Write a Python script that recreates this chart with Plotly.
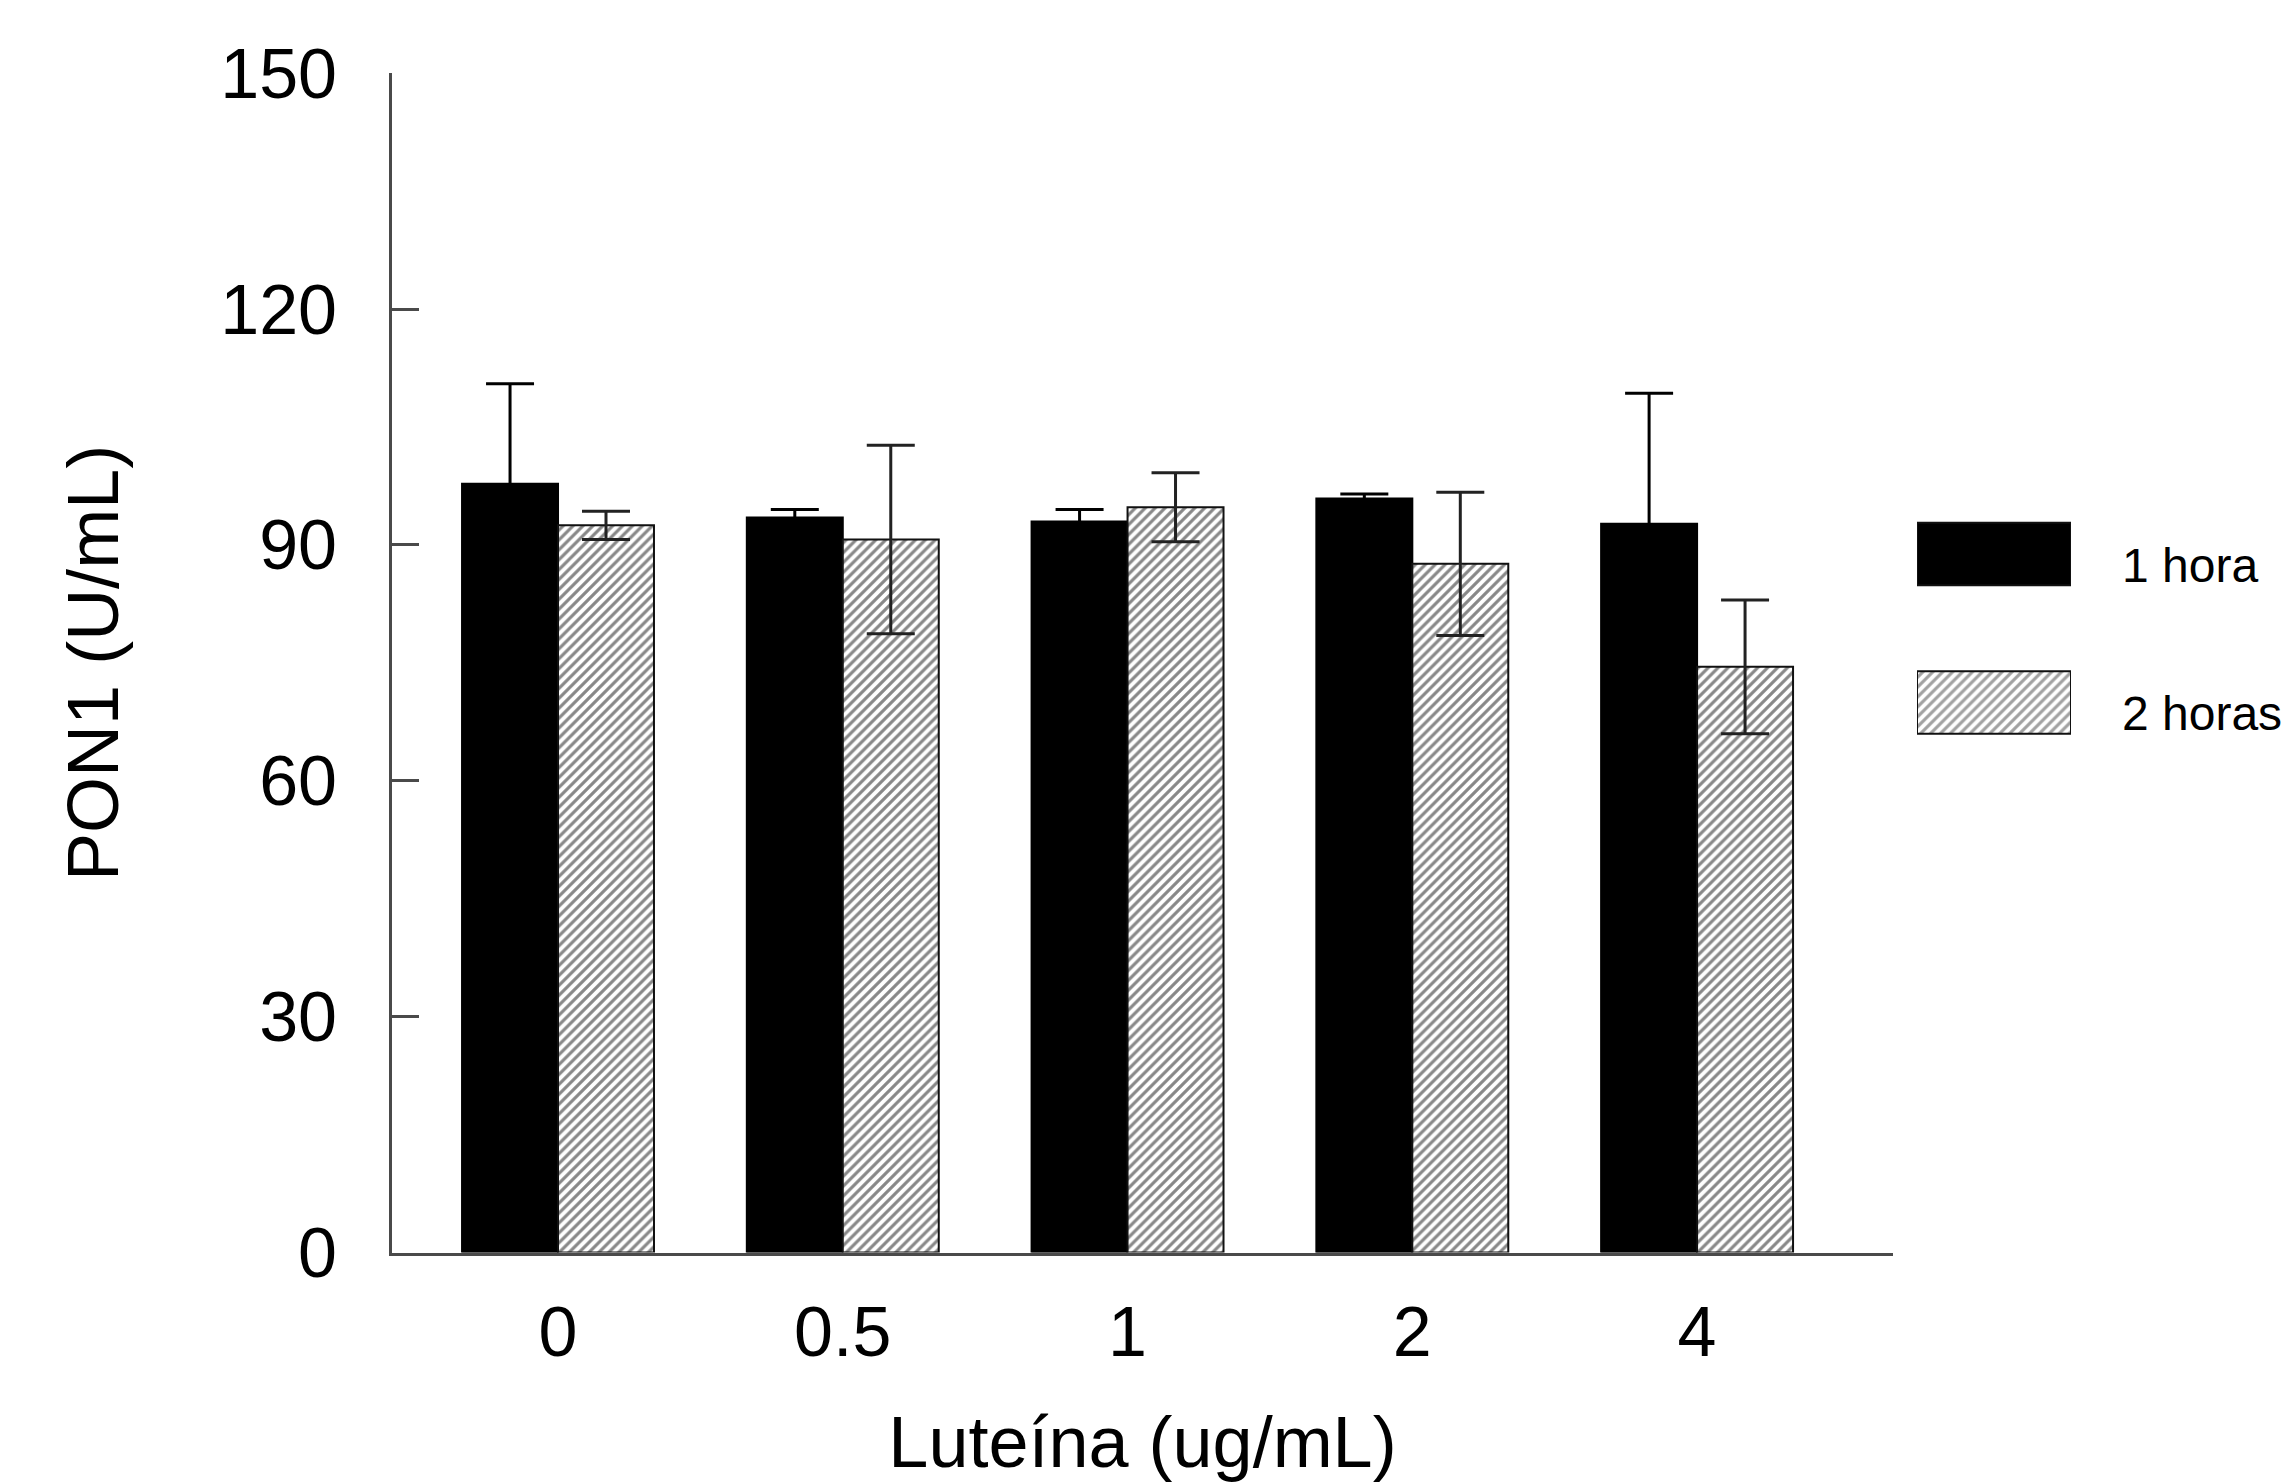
import plotly.graph_objects as go

# ---- data ----
concentrations = ["0", "0.5", "1", "2", "4"]
hora1_mean = [97.8, 93.5, 93.0, 95.9, 92.7]
hora1_err = [12.7, 1.0, 1.5, 0.6, 16.6]
hora2_mean = [92.5, 90.7, 94.8, 87.6, 74.5]
hora2_err = [1.8, 12.0, 4.4, 9.1, 8.5]
series_names = ["1 hora", "2 horas"]
y_ticks = [0, 30, 60, 90, 120, 150]

W, H = 2285, 1482
FONT = "Liberation Sans, Arial, Helvetica, sans-serif"
AXIS_COLOR = "#4a4a4a"
ERR_COLOR = "#222222"

def px_x(p):
    return p / W

def px_y(p):
    return (H - p) / H

hatch = dict(shape="/", fgcolor="#111111", bgcolor="white", size=7, solidity=0.45)

fig = go.Figure()

fig.add_trace(go.Bar(
    x=concentrations, y=hora1_mean, name=series_names[0],
    marker=dict(color="black", line=dict(color="black", width=2)),
    error_y=dict(type="data", array=hora1_err, visible=True,
                 color="black", thickness=3, width=24),
    showlegend=False, hoverinfo="x+y",
))
fig.add_trace(go.Bar(
    x=concentrations, y=hora2_mean, name=series_names[1],
    marker=dict(color="white", pattern=hatch, line=dict(color="#111111", width=2)),
    error_y=dict(type="data", array=hora2_err, visible=True,
                 color=ERR_COLOR, thickness=3, width=24),
    showlegend=False, hoverinfo="x+y",
))

# custom legend drawn on its own small axes (large swatches like the original)
fig.add_trace(go.Bar(
    y=series_names, x=[1, 1], orientation="h", width=0.42,
    marker=dict(color=["black", "white"],
                pattern=dict(shape=["", "/"], fgcolor="#111111", bgcolor="white",
                             size=7, solidity=0.45),
                line=dict(color="#111111", width=2)),
    xaxis="x2", yaxis="y2", showlegend=False, hoverinfo="skip",
))

fig.update_layout(
    width=W, height=H,
    margin=dict(l=0, r=0, t=0, b=0),
    paper_bgcolor="white", plot_bgcolor="white",
    font=dict(family=FONT, color="black", size=72),
    barmode="group", bargap=0.326, bargroupgap=0,
    showlegend=False,
    xaxis=dict(
        domain=[px_x(392), px_x(1893)],
        type="category", range=[-0.583, 4.688],
        showline=True, linecolor=AXIS_COLOR, linewidth=3,
        ticks="", showgrid=False, zeroline=False,
        tickfont=dict(size=70, family=FONT, color="black"),
        ticklabelstandoff=16,
        title=dict(text="Luteína (ug/mL)", font=dict(size=72, family=FONT, color="black"),
                   standoff=60),
        automargin=False,
    ),
    yaxis=dict(
        domain=[px_y(1252.5), px_y(73.3)],
        range=[0, 150], tickvals=y_ticks,
        showline=True, linecolor=AXIS_COLOR, linewidth=3,
        ticks="inside", ticklen=27, tickwidth=3, tickcolor=AXIS_COLOR,
        showgrid=False, zeroline=False,
        tickfont=dict(size=70, family=FONT, color="black"),
        ticklabelstandoff=38,
        title=dict(text="PON1 (U/mL)", font=dict(size=72, family=FONT, color="black"),
                   standoff=78),
        automargin=False,
    ),
    xaxis2=dict(
        domain=[px_x(1917), px_x(2071)], range=[0, 1], anchor="y2",
        visible=False, fixedrange=True,
    ),
    yaxis2=dict(
        domain=[px_y(776.75), px_y(479.75)], anchor="x2", side="right",
        type="category", categoryorder="array", categoryarray=series_names,
        range=[1.5, -0.5],
        showline=False, ticks="", showgrid=False, zeroline=False,
        tickfont=dict(size=48, family=FONT, color="black"),
        ticklabelstandoff=50, ticklabelshift=-11, fixedrange=True,
    ),
)

fig.write_html("out.html", config={"displayModeBar": False},
               post_script="document.body.style.margin='0px';")
